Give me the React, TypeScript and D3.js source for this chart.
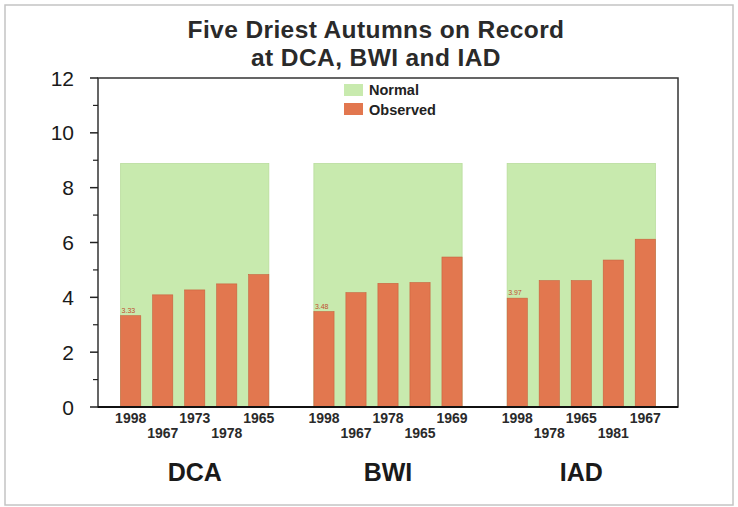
import React from "react";
import * as d3 from "d3";

// Stations and their normal autumn precipitation
const stations = ["DCA", "BWI", "IAD"];
const normalValues = [8.88, 8.88, 8.88];

// Five driest autumns per station (inches)
const dcaYears = ["1998", "1967", "1973", "1978", "1965"];
const dcaValues = [3.33, 4.09, 4.27, 4.49, 4.83];
const bwiYears = ["1998", "1967", "1978", "1965", "1969"];
const bwiValues = [3.48, 4.17, 4.51, 4.54, 5.47];
const iadYears = ["1998", "1978", "1965", "1981", "1967"];
const iadValues = [3.97, 4.61, 4.61, 5.36, 6.12];
const driestLabels = ["3.33", "3.48", "3.97"];

const yMajorTicks = [0, 2, 4, 6, 8, 10, 12];
const yMinorTicks = [1, 3, 5, 7, 9, 11];

const years = [dcaYears, bwiYears, iadYears];
const values = [dcaValues, bwiValues, iadValues];

const W = 738;
const H = 507;
const plot = { left: 98, right: 678, top: 78, bottom: 407 };

const GREEN = "#c8eaae";
const ORANGE = "#e2774f";
const FONT = "'Liberation Sans', Arial, sans-serif";

export default function App() {
  const y = d3.scaleLinear().domain([0, 12]).range([plot.bottom, plot.top]);
  const x0 = d3
    .scaleBand<string>()
    .domain(stations)
    .range([plot.left, plot.right])
    .paddingInner(0.233)
    .paddingOuter(0.117);
  const x1 = d3
    .scaleBand<number>()
    .domain(d3.range(5))
    .range([0, x0.bandwidth()])
    .paddingInner(0.37)
    .paddingOuter(0);

  return (
    <svg
      width={W}
      height={H}
      style={{ position: "absolute", left: 0, top: 0, background: "#fff" }}
      fontFamily={FONT}
    >
      {/* outer frame */}
      <rect x={5} y={5} width={728} height={500} fill="none" stroke="#c4c4c4" strokeWidth={1.5} />

      {/* title */}
      <text x={376} y={38} textAnchor="middle" fontSize={24.5} fontWeight="bold" letterSpacing={0.4} fill="#2a2a2a">
        Five Driest Autumns on Record
      </text>
      <text x={376} y={66} textAnchor="middle" fontSize={24.5} fontWeight="bold" letterSpacing={0.4} fill="#2a2a2a">
        at DCA, BWI and IAD
      </text>

      {/* normal background and observed bars */}
      {stations.map((s, i) => {
        const gx = x0(s)!;
        return (
          <g key={s}>
            <rect
              x={gx}
              y={y(normalValues[i])}
              width={x0.bandwidth()}
              height={y(0) - y(normalValues[i])}
              fill={GREEN}
              stroke="#b9dc9c"
              strokeWidth={0.8}
            />
            {values[i].map((v, j) => (
              <rect
                key={j}
                x={gx + x1(j)!}
                y={y(v)}
                width={x1.bandwidth()}
                height={y(0) - y(v)}
                fill={ORANGE}
                stroke="#c9603c"
                strokeWidth={0.6}
              />
            ))}
            <text
              x={gx + x1(0)! + 1}
              y={y(values[i][0]) - 3}
              fontSize={7}
              fill="#c0502e"
            >
              {driestLabels[i]}
            </text>
            {years[i].map((yr, j) => (
              <text
                key={yr + j}
                x={gx + x1(j)! + x1.bandwidth() / 2}
                y={j % 2 === 0 ? 423 : 438}
                textAnchor="middle"
                fontSize={14}
                fontWeight="bold"
                fill="#2a2a2a"
              >
                {yr}
              </text>
            ))}
            <text
              x={gx + x0.bandwidth() / 2}
              y={481}
              textAnchor="middle"
              fontSize={25}
              fontWeight="bold"
              fill="#1a1a1a"
            >
              {s}
            </text>
          </g>
        );
      })}

      {/* plot frame */}
      <rect
        x={plot.left}
        y={plot.top}
        width={plot.right - plot.left}
        height={plot.bottom - plot.top}
        fill="none"
        stroke="#333"
        strokeWidth={1.5}
      />
      <line x1={plot.left} x2={plot.right} y1={y(0)} y2={y(0)} stroke="#111" strokeWidth={2.2} />

      {/* y axis ticks */}
      {yMajorTicks.map((t) => (
        <g key={t}>
          <line x1={plot.left - 8} x2={plot.left} y1={y(t)} y2={y(t)} stroke="#222" strokeWidth={1.5} />
          <text
            x={plot.left - 24}
            y={y(t)}
            dy="0.36em"
            textAnchor="end"
            fontSize={21}
            fill="#1a1a1a"
          >
            {t}
          </text>
        </g>
      ))}
      {yMinorTicks.map((t) => (
        <line key={t} x1={plot.left - 5} x2={plot.left} y1={y(t)} y2={y(t)} stroke="#222" strokeWidth={1.2} />
      ))}

      {/* legend */}
      <g transform="translate(344,84)">
        <rect x={0} y={0} width={19} height={12} fill={GREEN} />
        <text x={25} y={11} fontSize={14.5} fontWeight="bold" fill="#222">
          Normal
        </text>
        <rect x={0} y={19} width={19} height={12} fill={ORANGE} />
        <text x={25} y={31} fontSize={14.5} fontWeight="bold" fill="#222">
          Observed
        </text>
      </g>
    </svg>
  );
}
